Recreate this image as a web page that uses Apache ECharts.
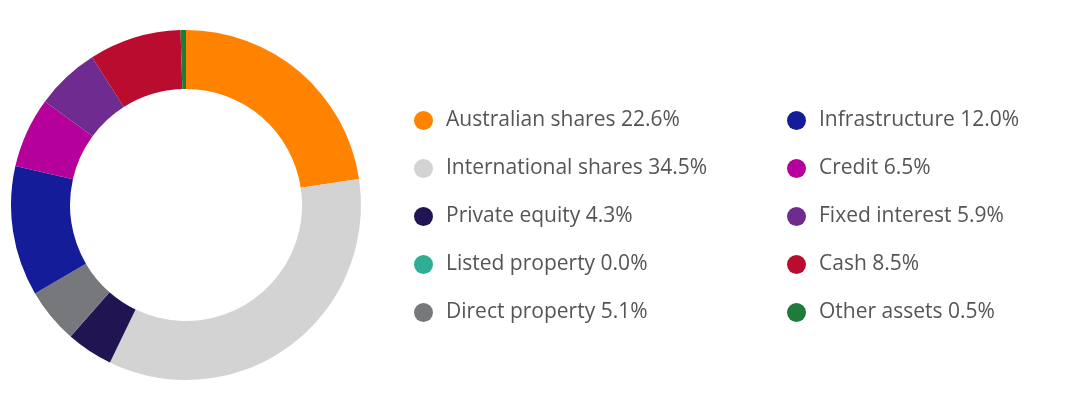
<!DOCTYPE html>
<html><head><meta charset="utf-8">
<script src="https://cdn.jsdelivr.net/npm/echarts@6/dist/echarts.min.js"></script>
<style>html,body{margin:0;padding:0;background:#fff}#c{width:1080px;height:415px}</style>
</head><body><div id="c"></div>
<script>
const categories = ['Australian shares','International shares','Private equity','Listed property','Direct property','Infrastructure','Credit','Fixed interest','Cash','Other assets'];
const values = [22.6,34.5,4.3,0.0,5.1,12.0,6.5,5.9,8.5,0.5];
const colors = ['#FF8300','#D3D3D3','#201552','#2EAE96','#76787B','#141C9A','#B5009B','#702B91','#BA0C2F','#1E7B3A'];
const chart = echarts.init(document.getElementById('c'));
const fmt = n => n + ' ' + values[categories.indexOf(n)].toFixed(1) + '%';
const legendBase = {orient:'vertical', icon:'circle', itemWidth:19, itemHeight:19, itemGap:27,
  textStyle:{fontFamily:'Open Sans', fontSize:21, lineHeight:19, color:'#555', padding:[0,0,0,8]}, formatter:fmt, selectedMode:false};
chart.setOption({
  color: colors,
  legend: [
    Object.assign({}, legendBase, {left:409, top:105, data:categories.slice(0,5)}),
    Object.assign({}, legendBase, {left:782, top:105, data:categories.slice(5)})
  ],
  series:[{type:'pie', center:[186,205], radius:[116,175], startAngle:90, clockwise:true,
    label:{show:false}, labelLine:{show:false}, silent:true, animation:false,
    itemStyle:{borderWidth:0},
    data: categories.map((n,i)=>({name:n, value:values[i]}))}]
});
</script></body></html>
